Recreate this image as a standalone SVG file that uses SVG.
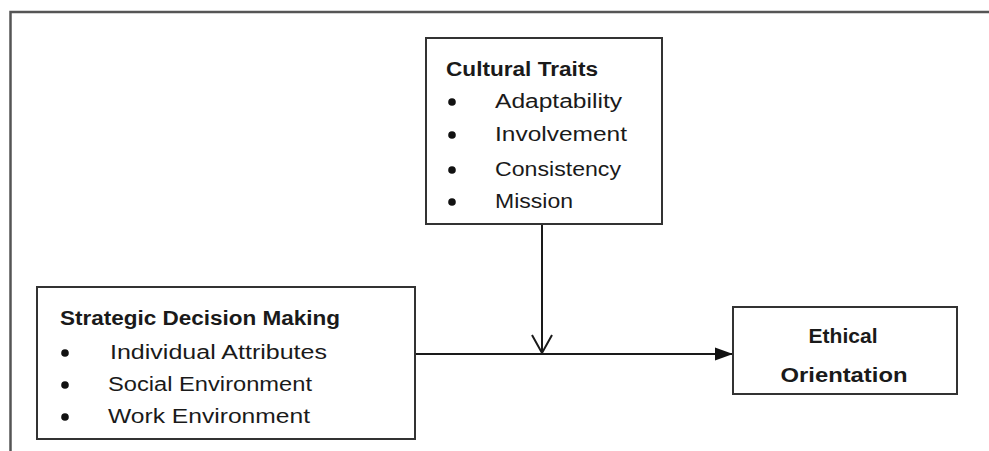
<svg xmlns="http://www.w3.org/2000/svg" width="989" height="451" viewBox="0 0 989 451">
  <style>
    .box { fill: #ffffff; stroke: #333333; stroke-width: 2; }
    .frame { fill: none; stroke: #555555; stroke-width: 2.5; }
    .conn { fill: none; stroke: #1a1a1a; stroke-width: 2; }
    .t { font-family: "Liberation Sans", Arial, sans-serif; font-size: 20px; fill: #1a1a1a; }
    .b { font-weight: bold; }
    .dot { fill: #111111; }
  </style>
  <defs>
    <marker id="filled" markerUnits="userSpaceOnUse" markerWidth="20" markerHeight="16" refX="18" refY="8" orient="auto">
      <path d="M0,1.5 L18,8 L0,14.5 Z" fill="#111111"/>
    </marker>
    <marker id="openv" markerUnits="userSpaceOnUse" markerWidth="24" markerHeight="22" refX="20" refY="11" orient="auto">
      <path d="M2,1 L20,11 L2,21" fill="none" stroke="#1a1a1a" stroke-width="2"/>
    </marker>
  </defs>
  <rect width="989" height="451" fill="#ffffff"/>
  <path class="frame" d="M10.5,451 V12 H989"/>

  <g id="connectors">
    <line class="conn" x1="415" y1="354" x2="733" y2="354" marker-end="url(#filled)"/>
    <line class="conn" x1="542" y1="224" x2="542" y2="353" marker-end="url(#openv)"/>
  </g>

  <g id="cultural-traits">
    <rect class="box" x="426" y="38" width="236" height="186"/>
    <text class="t b" x="446" y="76" textLength="152" lengthAdjust="spacingAndGlyphs">Cultural Traits</text>
    <circle class="dot" cx="452" cy="102" r="3.8"/>
    <text class="t" x="495" y="108" textLength="127" lengthAdjust="spacingAndGlyphs">Adaptability</text>
    <circle class="dot" cx="452" cy="135" r="3.8"/>
    <text class="t" x="495" y="141" textLength="132" lengthAdjust="spacingAndGlyphs">Involvement</text>
    <circle class="dot" cx="452" cy="170" r="3.8"/>
    <text class="t" x="495" y="176" textLength="126" lengthAdjust="spacingAndGlyphs">Consistency</text>
    <circle class="dot" cx="452" cy="202" r="3.8"/>
    <text class="t" x="495" y="208" textLength="78" lengthAdjust="spacingAndGlyphs">Mission</text>
  </g>

  <g id="strategic-decision-making">
    <rect class="box" x="37" y="287" width="378" height="152"/>
    <text class="t b" x="60" y="325" textLength="280" lengthAdjust="spacingAndGlyphs">Strategic Decision Making</text>
    <circle class="dot" cx="65" cy="353" r="3.8"/>
    <text class="t" x="110" y="359" textLength="217" lengthAdjust="spacingAndGlyphs">Individual Attributes</text>
    <circle class="dot" cx="65" cy="385" r="3.8"/>
    <text class="t" x="108" y="391" textLength="204" lengthAdjust="spacingAndGlyphs">Social Environment</text>
    <circle class="dot" cx="65" cy="417" r="3.8"/>
    <text class="t" x="108" y="423" textLength="202" lengthAdjust="spacingAndGlyphs">Work Environment</text>
  </g>

  <g id="ethical-orientation">
    <rect class="box" x="733" y="307" width="224" height="87"/>
    <text class="t b" x="843" y="343" text-anchor="middle" textLength="69" lengthAdjust="spacingAndGlyphs">Ethical</text>
    <text class="t b" x="844" y="382" text-anchor="middle" textLength="127" lengthAdjust="spacingAndGlyphs">Orientation</text>
  </g>
</svg>
